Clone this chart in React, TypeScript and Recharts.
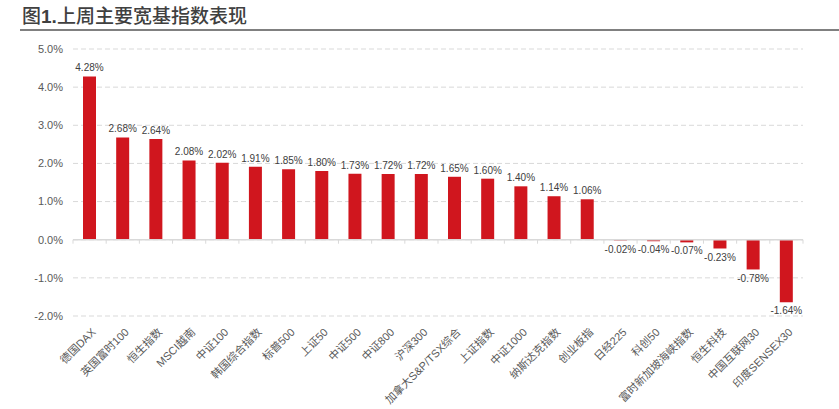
import { BarChart, Bar, XAxis, YAxis, CartesianGrid, ReferenceLine, LabelList } from 'recharts'

const categories = [
  '德国DAX', '英国富时100', '恒生指数', 'MSCI越南', '中证100', '韩国综合指数', '标普500', '上证50',
  '中证500', '中证800', '沪深300', '加拿大S&P/TSX综合', '上证指数', '中证1000', '纳斯达克指数', '创业板指',
  '日经225', '科创50', '富时新加坡海峡指数', '恒生科技', '中国互联网30', '印度SENSEX30',
]
const returns = [
  4.28, 2.68, 2.64, 2.08, 2.02, 1.91, 1.85, 1.8, 1.73, 1.72, 1.72, 1.65, 1.6, 1.4, 1.14, 1.06,
  -0.02, -0.04, -0.07, -0.23, -0.78, -1.64,
]
const yTicks = [-2, -1, 0, 1, 2, 3, 4, 5]

const data = categories.map((name, i) => ({ name, value: returns[i] }))

const FONT = '"Liberation Sans", Arial, "Noto Sans CJK SC", sans-serif'

function XTick(props: any) {
  const { x, y, payload } = props
  const tx = x + 4
  return (
    <text
      x={tx}
      y={y}
      transform={`rotate(-45, ${tx}, ${y})`}
      textAnchor="end"
      dy={4}
      fontSize={11}
      fill="#595959"
      fontFamily={FONT}
    >
      {payload.value}
    </text>
  )
}

// zero line with small tick marks at category boundaries
function ZeroLine(props: any) {
  const { x1, x2, y1 } = props
  const n = categories.length
  const step = (x2 - x1) / n
  const marks = []
  for (let i = 0; i <= n; i++) {
    const x = x1 + step * i
    marks.push(<line key={i} x1={x} x2={x} y1={y1} y2={y1 + 4} stroke="#d9d9d9" strokeWidth={1} />)
  }
  return (
    <g>
      <line x1={x1} x2={x2} y1={y1} y2={y1} stroke="#d9d9d9" strokeWidth={1.5} />
      {marks}
    </g>
  )
}

export default function App() {
  return (
    <div style={{ position: 'absolute', left: 0, top: 0, width: 839, height: 409, background: '#fff' }}>
      <div
        style={{
          position: 'absolute',
          left: 22,
          top: 3,
          fontFamily: '"Noto Sans CJK SC", sans-serif',
          fontWeight: 500,
          fontSize: 19,
          color: '#404040',
          lineHeight: '24px',
          whiteSpace: 'nowrap',
        }}
      >
        图<b style={{ fontFamily: '"Liberation Sans", Arial, sans-serif' }}>1.</b>上周主要宽基指数表现
      </div>
      <div style={{ position: 'absolute', left: 20, top: 29, width: 819, height: 2, background: '#808080' }} />
      <BarChart width={839} height={409} data={data} margin={{ top: 49, right: 36, bottom: 0, left: 0 }} barSize={13}>
        <CartesianGrid vertical={false} stroke="#d9d9d9" strokeDasharray="5 3" />
        <XAxis
          dataKey="name"
          interval={0}
          axisLine={false}
          tickLine={false}
          height={93}
          tick={<XTick />}
          tickMargin={8}
        />
        <YAxis
          width={73}
          domain={[-2, 5]}
          ticks={yTicks}
          axisLine={false}
          tickLine={false}
          tickSize={0}
          tickMargin={10}
          tickFormatter={(v: number) => `${v.toFixed(1)}%`}
          tick={{ fontSize: 11, fill: '#595959', fontFamily: FONT }}
        />
        <ReferenceLine y={0} shape={<ZeroLine />} />
        <Bar dataKey="value" fill="#d0161e" isAnimationActive={false}>
          <LabelList
            dataKey="value"
            position="top"
            offset={5}
            formatter={(v: any) => `${Number(v).toFixed(2)}%`}
            style={{ fontSize: 10, fill: '#404040', fontFamily: FONT }}
          />
        </Bar>
      </BarChart>
    </div>
  )
}
